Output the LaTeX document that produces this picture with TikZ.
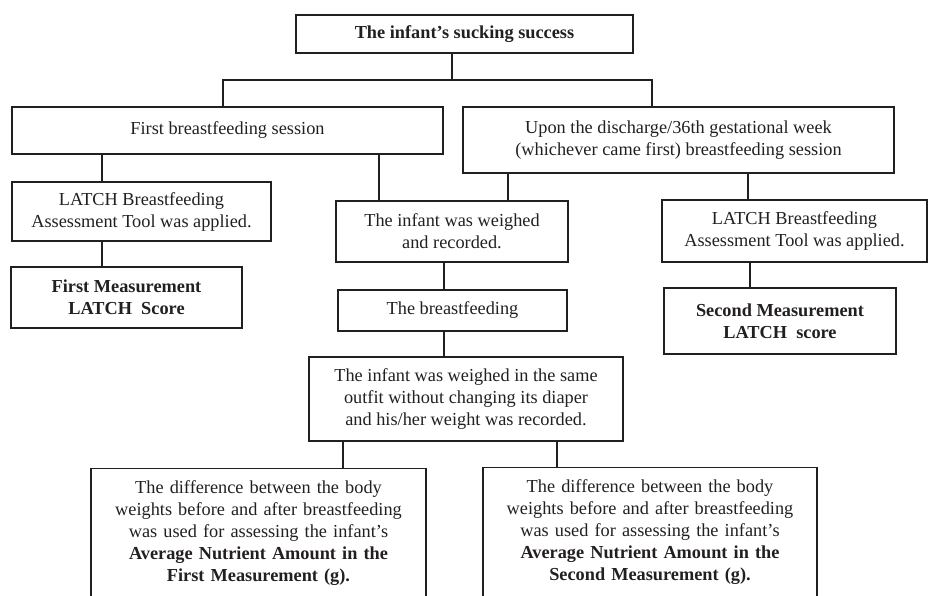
\documentclass[tikz,border=0pt]{standalone}
\usepackage{fontspec}
\setmainfont{Liberation Serif}
\definecolor{ink}{HTML}{231F20}
\begin{document}
\begin{tikzpicture}[x=1pt,y=-1pt,
  box/.style={draw=ink, line width=1.1pt, align=center, inner sep=0pt,
    font=\fontsize{18.3pt}{22pt}\selectfont, text=ink},
  conn/.style={draw=ink, line width=1.1pt}]
\useasboundingbox (0,0) rectangle (928,595);
\clip (0,0) rectangle (928,595);
% boxes
\node[box, minimum width=337pt, minimum height=38pt] (top) at (464.5,34) {\textbf{The infant's sucking success}};
\node[box, minimum width=431pt, minimum height=47pt] (first) at (227.5,130.5) {First breastfeeding session};
\node[box, minimum width=431pt, minimum height=66pt] (upon) at (678.5,140) {Upon the discharge/36th gestational week\\(whichever came first) breastfeeding session};
\node[box, minimum width=259pt, minimum height=59pt] (latch1) at (141.5,211.5) {LATCH Breastfeeding\\Assessment Tool was applied.};
\node[box, minimum width=231pt, minimum height=61pt] (meas1) at (126.5,297.5) {\textbf{First Measurement}\\\textbf{LATCH~ Score}};
\node[box, minimum width=232pt, minimum height=61pt] (weighed) at (452,231.5) {The infant was weighed\\and recorded.};
\node[box, minimum width=229pt, minimum height=41pt] (breast) at (452.5,310.5) {The breastfeeding};
\node[box, minimum width=314pt, minimum height=84pt] (big) at (466,399) {The infant was weighed in the same\\outfit without changing its diaper\\and his/her weight was recorded.};
\node[box, minimum width=265pt, minimum height=62pt] (latch2) at (794.5,231) {LATCH Breastfeeding\\Assessment Tool was applied.};
\node[box, minimum width=232pt, minimum height=66pt] (meas2) at (780,321) {\textbf{Second Measurement}\\\textbf{LATCH~ score}};
\node[box, anchor=north, minimum width=335pt, text width=330pt, inner ysep=12pt] (diff1) at (258.5,468) {The difference between the body\\weights before and after breastfeeding\\was used for assessing the infant's\\\textbf{Average Nutrient Amount in the}\\\textbf{First Measurement (g).}};
\node[box, anchor=north, minimum width=334pt, text width=330pt, inner ysep=12pt] (diff2) at (650,467) {The difference between the body\\weights before and after breastfeeding\\was used for assessing the infant's\\\textbf{Average Nutrient Amount in the}\\\textbf{Second Measurement (g).}};
% junction points
\coordinate (hub) at (452,80);
\coordinate (hl) at (223,80);
\coordinate (hr) at (652,80);
% connectors
\draw[conn] (top.south -| hub) -- (hub);
\draw[conn] (first.north -| hl) -- (hl) -- (hr) -- (upon.north -| hr);
\draw[conn] (first.south -| 102,0) -- (latch1.north -| 102,0);
\draw[conn] (latch1.south -| 102,0) -- (meas1.north -| 102,0);
\draw[conn] (first.south -| 379,0) -- (weighed.north -| 379,0);
\draw[conn] (upon.south -| 508,0) -- (weighed.north -| 508,0);
\draw[conn] (upon.south -| 748,0) -- (latch2.north -| 748,0);
\draw[conn] (latch2.south -| 750,0) -- (meas2.north -| 750,0);
\draw[conn] (weighed.south -| 444,0) -- (breast.north -| 444,0);
\draw[conn] (breast.south -| 444,0) -- (big.north -| 444,0);
\draw[conn] (big.south -| 343,0) -- (diff1.north -| 343,0);
\draw[conn] (big.south -| 557,0) -- (diff2.north -| 557,0);
\end{tikzpicture}
\end{document}
